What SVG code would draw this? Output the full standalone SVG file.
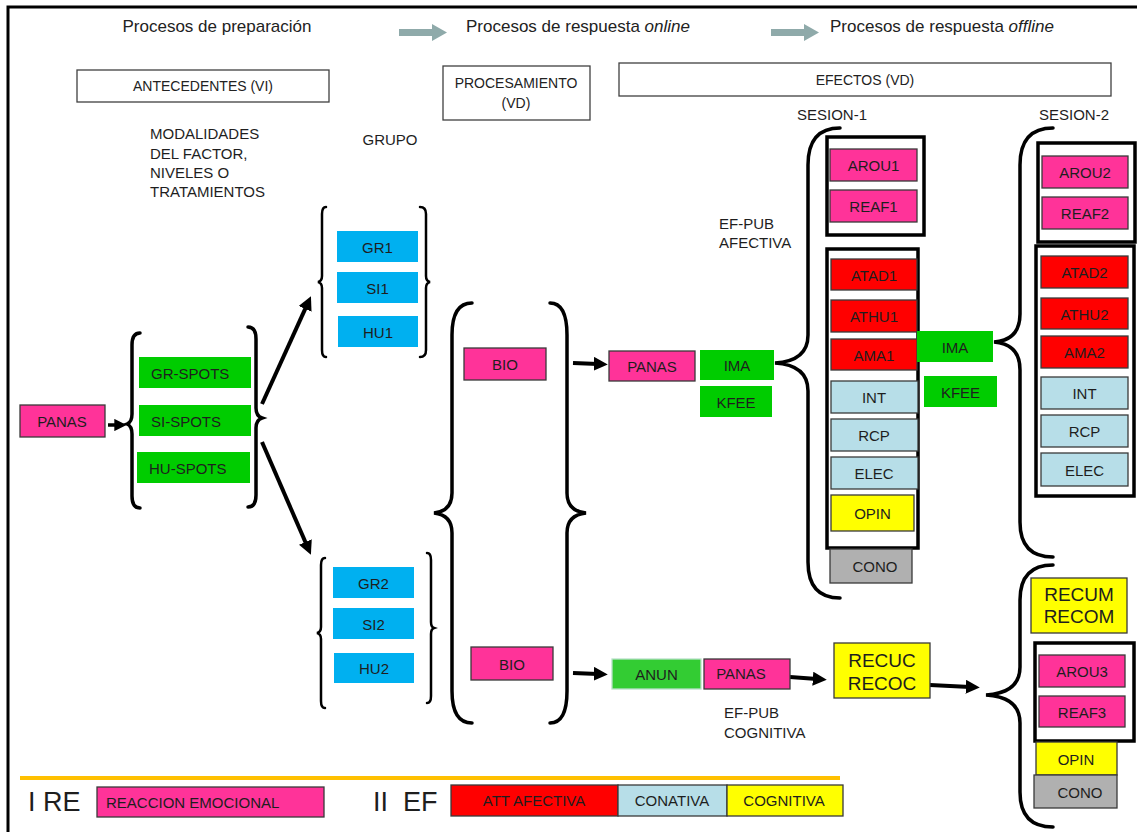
<svg xmlns="http://www.w3.org/2000/svg" width="1137" height="832" viewBox="0 0 1137 832">
<style>
.t{font-family:"Liberation Sans",Arial,sans-serif;font-size:15px;fill:#1e1e1e;text-anchor:middle;dominant-baseline:central}
.s{text-anchor:start}
.h{font-size:17px;fill:#222}
.tt{font-size:14px;fill:#222}
.big{font-size:19px}
.lg{font-size:27px;text-anchor:start;white-space:pre}
.pk{fill:#ff3399;stroke:#3a3a3a;stroke-width:1.3}
.gr{fill:#00cc00}
.bl{fill:#00b0f0}
.rd{fill:#ff0000;stroke:#3a3a3a;stroke-width:1.3}
.lb{fill:#b7dee8;stroke:#3a3a3a;stroke-width:1.3}
.yl{fill:#ffff00;stroke:#3a3a3a;stroke-width:1.3}
.gy{fill:#b0b0b0;stroke:#3a3a3a;stroke-width:1.3}
.hb{fill:#fff;stroke:#404040;stroke-width:1.3}
.bx{fill:#fff;stroke:#000;stroke-width:3.5}
.br{fill:none;stroke:#000;stroke-width:3.5;stroke-linecap:round}
.bs{fill:none;stroke:#000;stroke-width:2.5;stroke-linecap:round}
.ar{stroke:#000;stroke-width:4;marker-end:url(#ah)}
.ga{fill:#8faaaa}
</style>
<defs>
<marker id="ah" viewBox="0 0 10 10" markerWidth="3.5" markerHeight="3.5" refX="3" refY="5" orient="auto" markerUnits="strokeWidth">
<path d="M0,0 L10,5 L0,10 z" fill="#000"/>
</marker>
</defs>
<rect x="8" y="7" width="1140" height="840" fill="#fff" stroke="#000" stroke-width="3"/>

<g id="headers">
<text class="t h" x="217" y="26">Procesos de preparación</text>
<text class="t h s" x="466" y="26">Procesos de respuesta <tspan font-style="italic">online</tspan></text>
<text class="t h s" x="830" y="26">Procesos de respuesta <tspan font-style="italic">offline</tspan></text>
</g>

<g id="antecedentes"><rect class="hb" x="77" y="70" width="252" height="32"/><text class="t tt" x="203" y="86">ANTECEDENTES (VI)</text></g>
<g id="procesamiento"><rect class="hb" x="443" y="66" width="147" height="54"/><text class="t tt" x="516" y="83">PROCESAMIENTO</text><text class="t tt" x="516" y="103">(VD)</text></g>
<g id="efectos"><rect class="hb" x="619" y="63" width="492" height="33"/><text class="t tt" x="865" y="80">EFECTOS (VD)</text></g>

<g id="labels">
<text class="t s" x="150" y="133">MODALIDADES</text>
<text class="t s" x="150" y="153">DEL FACTOR,</text>
<text class="t s" x="150" y="172">NIVELES O</text>
<text class="t s" x="150" y="191">TRATAMIENTOS</text>
<text class="t" x="390" y="139">GRUPO</text>
<text class="t" x="832" y="114">SESION-1</text>
<text class="t" x="1074" y="114">SESION-2</text>
<text class="t s" x="719" y="223" fill="#333">EF-PUB</text>
<text class="t s" x="719" y="242" fill="#333">AFECTIVA</text>
<text class="t s" x="724" y="712" fill="#333">EF-PUB</text>
<text class="t s" x="724" y="732" fill="#333">COGNITIVA</text>
</g>

<g id="braces">
<path class="br" d="M140,333 Q132,333 132,345 L132,414 Q132,422 127,424 Q132,426 132,434 L132,496 Q132,508 140,508"/>
<path class="br" d="M248,327 Q256,327 256,339 L256,408 Q256,416 262,418 Q256,420 256,428 L256,495 Q256,507 248,507"/>
<path class="bs" d="M326,207 Q322,207 322,214 L322,276 Q322,281 318,282 Q322,283 322,288 L322,350 Q322,357 326,357"/>
<path class="bs" d="M420,207 Q426,207 426,214 L426,276 Q426,281 430,282 Q426,283 426,288 L426,350 Q426,357 420,357"/>
<path class="bs" d="M325,558 Q321,558 321,565 L321,627 Q321,632 317,633 Q321,634 321,639 L321,701 Q321,708 325,708"/>
<path class="bs" d="M427,553 Q431,553 431,560 L431,622 Q431,627 434,628 Q431,629 431,634 L431,696 Q431,703 427,703"/>
<path class="br" d="M472,303 Q452,303 452,335 L452,493 Q452,511 434,513 Q452,515 452,533 L452,691 Q452,723 472,723"/>
<path class="br" d="M550,303 Q567,303 567,335 L567,493 Q567,511 586,513 Q567,515 567,533 L567,691 Q567,723 550,723"/>
<path class="br" d="M840,128 Q808,128 808,165 L808,335 Q808,361 775,363 Q808,365 808,391 L808,562 Q808,598 840,598"/>
<path class="br" d="M1053,128 Q1020,128 1020,165 L1020,314 Q1020,340 994,342 Q1020,344 1020,370 L1020,522 Q1020,557 1053,557"/>
<path class="br" d="M1053,565 Q1020,565 1020,600 L1020,667 Q1020,693 986,695 Q1020,697 1020,723 L1020,792 Q1020,827 1053,827"/>
</g>

<g id="connectors">
<polygon class="ga" points="399,29 432,29 432,24 447,32.5 432,41 432,36 399,36"/>
<polygon class="ga" points="771,29 804,29 804,24 819,32.5 804,41 804,36 771,36"/>
<line class="ar" x1="108" y1="425" x2="118" y2="425" style="stroke-width:3.5"/>
<line class="ar" x1="262" y1="404" x2="306.9" y2="305.1"/>
<line class="ar" x1="262" y1="442" x2="307" y2="545.8"/>
<line class="ar" x1="573" y1="363" x2="598" y2="364"/>
<line class="ar" x1="573" y1="673" x2="598" y2="674"/>
<line class="ar" x1="790" y1="677" x2="817" y2="679"/>
<line class="ar" x1="930" y1="685" x2="970" y2="687"/>
</g>

<g id="panas0"><rect class="pk" x="20" y="405" width="85" height="32"/><text class="t" x="62" y="421" font-size="16">PANAS</text></g>
<g id="gr-spots"><rect class="gr" x="139" y="357" width="112" height="31"/><text class="t s" x="151" y="373">GR-SPOTS</text></g>
<g id="si-spots"><rect class="gr" x="139" y="405" width="112" height="31"/><text class="t s" x="151" y="421">SI-SPOTS</text></g>
<g id="hu-spots"><rect class="gr" x="137" y="452" width="113" height="31"/><text class="t s" x="149" y="468">HU-SPOTS</text></g>

<g id="gr1"><rect class="bl" x="337" y="231" width="81" height="31"/><text class="t" x="377.5" y="247" font-size="14">GR1</text></g>
<g id="si1"><rect class="bl" x="337" y="272" width="81" height="31"/><text class="t" x="377.5" y="288" font-size="14">SI1</text></g>
<g id="hu1"><rect class="bl" x="338" y="316" width="80" height="31"/><text class="t" x="378" y="332" font-size="14">HU1</text></g>
<g id="gr2"><rect class="bl" x="333" y="567" width="81" height="31"/><text class="t" x="373.5" y="583" font-size="14">GR2</text></g>
<g id="si2"><rect class="bl" x="333" y="608" width="81" height="31"/><text class="t" x="373.5" y="624" font-size="14">SI2</text></g>
<g id="hu2"><rect class="bl" x="334" y="653" width="80" height="30"/><text class="t" x="374" y="668" font-size="14">HU2</text></g>

<g id="bio1"><rect class="pk" x="464" y="348" width="82" height="32"/><text class="t" x="505" y="364" font-size="16">BIO</text></g>
<g id="bio2"><rect class="pk" x="471" y="647" width="82" height="33"/><text class="t" x="512" y="664" font-size="16">BIO</text></g>

<g id="panas1"><rect class="pk" x="609" y="351" width="86" height="30"/><text class="t" x="652" y="366" font-size="16">PANAS</text></g>
<g id="ima1"><rect class="gr" x="700" y="350" width="74" height="30"/><text class="t" x="737" y="365">IMA</text></g>
<g id="kfee1"><rect class="gr" x="700" y="386" width="72" height="31"/><text class="t" x="736" y="402">KFEE</text></g>

<g id="s1-emo"><rect class="bx" x="827" y="137" width="97" height="98"/>
<rect class="pk" x="830" y="149" width="87" height="32"/><text class="t" x="873.5" y="165">AROU1</text>
<rect class="pk" x="830" y="190" width="87" height="32"/><text class="t" x="873.5" y="206">REAF1</text></g>
<g id="s1-att"><rect class="bx" x="827" y="249" width="91" height="299"/>
<rect class="rd" x="831" y="259" width="86" height="31"/><text class="t" x="874" y="275">ATAD1</text>
<rect class="rd" x="831" y="300" width="86" height="32"/><text class="t" x="874" y="316">ATHU1</text>
<rect class="rd" x="831" y="339" width="86" height="31"/><text class="t" x="874" y="355">AMA1</text>
<rect class="lb" x="831" y="381" width="87" height="32"/><text class="t" x="874" y="397">INT</text>
<rect class="lb" x="831" y="419" width="87" height="32"/><text class="t" x="874" y="435">RCP</text>
<rect class="lb" x="831" y="457" width="87" height="32"/><text class="t" x="874" y="473">ELEC</text>
<rect class="yl" x="831" y="495" width="83" height="36"/><text class="t" x="872.5" y="513">OPIN</text></g>
<g id="cono1"><rect class="gy" x="830" y="549" width="82" height="34"/><text class="t" x="875" y="566">CONO</text></g>

<g id="ima2"><rect class="gr" x="917" y="331" width="76" height="31"/><text class="t" x="955" y="347">IMA</text></g>
<g id="kfee2"><rect class="gr" x="924" y="376" width="73" height="31"/><text class="t" x="960.5" y="392">KFEE</text></g>

<g id="s2-emo"><rect class="bx" x="1038" y="143" width="97" height="99"/>
<rect class="pk" x="1042" y="156" width="86" height="32"/><text class="t" x="1085" y="172">AROU2</text>
<rect class="pk" x="1042" y="197" width="86" height="32"/><text class="t" x="1085" y="213">REAF2</text></g>
<g id="s2-att"><rect class="bx" x="1036" y="246" width="98" height="250"/>
<rect class="rd" x="1041" y="256" width="87" height="32"/><text class="t" x="1084.5" y="272">ATAD2</text>
<rect class="rd" x="1041" y="298" width="87" height="31"/><text class="t" x="1084.5" y="314">ATHU2</text>
<rect class="rd" x="1041" y="336" width="87" height="32"/><text class="t" x="1084.5" y="352">AMA2</text>
<rect class="lb" x="1041" y="377" width="87" height="32"/><text class="t" x="1084.5" y="393">INT</text>
<rect class="lb" x="1041" y="415" width="87" height="32"/><text class="t" x="1084.5" y="431">RCP</text>
<rect class="lb" x="1041" y="453" width="87" height="33"/><text class="t" x="1084.5" y="470">ELEC</text></g>

<g id="anun"><rect x="612" y="659" width="89" height="30" fill="#33cc33" stroke="#b8e0c8" stroke-width="1.3"/><text class="t" x="656.5" y="674" font-size="16">ANUN</text></g>
<g id="panas2"><rect class="pk" x="704" y="659" width="86" height="30"/><text class="t" x="741" y="673" font-size="16">PANAS</text></g>
<g id="recuc"><rect class="yl" x="834" y="643" width="96" height="55"/><text class="t big" x="882" y="660">RECUC</text><text class="t big" x="882" y="683">RECOC</text></g>

<g id="recum"><rect class="yl" x="1031" y="578" width="96" height="55"/><text class="t big" x="1079" y="594">RECUM</text><text class="t big" x="1079" y="616">RECOM</text></g>
<g id="s3-emo"><rect class="bx" x="1035" y="643" width="99" height="98"/>
<rect class="pk" x="1039" y="655" width="86" height="32"/><text class="t" x="1082" y="671">AROU3</text>
<rect class="pk" x="1039" y="696" width="86" height="31"/><text class="t" x="1082" y="712">REAF3</text></g>
<g id="opin3"><rect class="yl" x="1036" y="742" width="81" height="33"/><text class="t" x="1076" y="759">OPIN</text></g>
<g id="cono3"><rect class="gy" x="1034" y="775" width="83" height="33"/><text class="t" x="1080" y="792">CONO</text></g>

<g id="legend">
<line x1="20" y1="778" x2="840" y2="778" stroke="#ffc000" stroke-width="4"/>
<text class="t lg" x="28" y="802">I RE</text>
<rect class="pk" x="97" y="787" width="227" height="30"/><text class="t s" x="106" y="802">REACCION EMOCIONAL</text>
<text class="t lg" x="373" y="802">II  EF</text>
<rect class="rd" x="451" y="785" width="167" height="31"/><text class="t" x="534" y="800">ATT AFECTIVA</text>
<rect class="lb" x="618" y="785" width="109" height="31"/><text class="t" x="672" y="800">CONATIVA</text>
<rect class="yl" x="727" y="785" width="116" height="31"/><text class="t" x="784" y="800">COGNITIVA</text>
</g>
</svg>
